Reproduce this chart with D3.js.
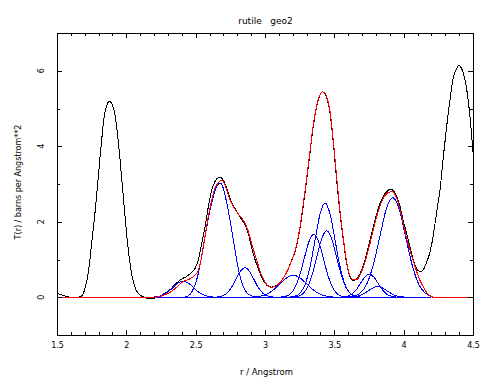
<!DOCTYPE html>
<html><head><meta charset="utf-8">
<script src="https://cdn.jsdelivr.net/npm/d3@7"></script>
<style>
body{margin:0;background:#fff}
svg{display:block}
text{font-family:"DejaVu Sans",sans-serif;fill:#000}
</style>
</head><body>
<svg id="c" width="501" height="391"></svg>
<script>
// ---------- data ----------
const title = "rutile   geo2";
const xTitle = "r / Angstrom";
const yTitle = "T(r) / barns per Angstrom**2";
const xMajor = [1.5, 2, 2.5, 3, 3.5, 4, 4.5];
const xMinor = [1.6,1.7,1.8,1.9,2.1,2.2,2.3,2.4,2.6,2.7,2.8,2.9,3.1,3.2,3.3,3.4,3.6,3.7,3.8,3.9,4.1,4.2,4.3,4.4];
const yMajor = [0, 2, 4, 6];
const yMinor = [1, 3, 5];

// measured T(r) (black)
const blackR = [1.5,1.53,1.56,1.6,1.65,1.675,1.69,1.704,1.716,1.728,1.74,1.752,1.764,1.776,1.788,1.80,1.81,1.82,1.837,1.856,1.868,1.88,1.892,1.904,1.92,1.938,1.957,1.976,1.993,2.012,2.034,2.058,2.075,2.089,2.11,2.13,2.17,2.2,2.22,2.243,2.27,2.315,2.363,2.402,2.435,2.471,2.495,2.519,2.543,2.567,2.591,2.615,2.639,2.656,2.671,2.685,2.7,2.724,2.753,2.784,2.82,2.856,2.88,2.904,2.928,2.952,2.976,3.0,3.024,3.048,3.066,3.084,3.102,3.12,3.138,3.156,3.174,3.192,3.21,3.228,3.252,3.276,3.30,3.324,3.348,3.373,3.397,3.413,3.429,3.445,3.469,3.493,3.517,3.541,3.565,3.589,3.613,3.637,3.66,3.685,3.709,3.733,3.757,3.781,3.805,3.829,3.853,3.877,3.895,3.909,3.93,3.95,3.974,4.0,4.022,4.04,4.058,4.076,4.094,4.11,4.123,4.14,4.166,4.19,4.208,4.226,4.244,4.262,4.286,4.31,4.334,4.358,4.38,4.399,4.415,4.43,4.455,4.478,4.5];
const blackT = [0.10,0.07,0.03,0.0,0.0,0.03,0.1,0.27,0.45,0.71,1.08,1.51,1.9,2.31,2.8,3.28,3.7,4.08,4.70,5.05,5.16,5.19,5.15,5.05,4.79,4.26,3.55,2.75,2.04,1.33,0.71,0.31,0.16,0.09,0.03,0.0,-0.04,-0.03,0.0,0.03,0.09,0.2,0.38,0.49,0.55,0.66,0.76,0.98,1.42,1.86,2.39,2.84,3.06,3.15,3.18,3.16,3.10,2.88,2.57,2.35,2.13,1.91,1.69,1.3,1.0,0.75,0.53,0.38,0.29,0.27,0.28,0.32,0.38,0.45,0.55,0.67,0.81,0.98,1.14,1.36,1.82,2.42,3.10,3.81,4.52,5.05,5.36,5.44,5.4,5.28,4.88,4.08,3.10,2.22,1.51,0.89,0.53,0.44,0.48,0.62,0.85,1.15,1.5,1.86,2.2,2.48,2.68,2.79,2.85,2.86,2.8,2.66,2.4,1.98,1.69,1.42,1.15,0.92,0.76,0.69,0.67,0.72,0.93,1.2,1.52,1.95,2.4,2.84,3.72,4.52,5.23,5.81,6.05,6.14,6.08,5.94,5.5,4.79,3.85];

// total fit (red)
const fitR = [1.5,2.2,2.243,2.28,2.315,2.363,2.411,2.459,2.495,2.519,2.543,2.567,2.591,2.615,2.639,2.663,2.687,2.712,2.736,2.76,2.796,2.844,2.873,2.904,2.94,2.976,3.012,3.04,3.06,3.084,3.102,3.12,3.138,3.156,3.174,3.192,3.21,3.228,3.252,3.276,3.30,3.324,3.348,3.373,3.397,3.413,3.429,3.445,3.469,3.493,3.517,3.541,3.565,3.589,3.613,3.637,3.66,3.685,3.709,3.733,3.757,3.781,3.805,3.829,3.853,3.877,3.9,3.915,3.93,3.95,3.974,4.0,4.022,4.046,4.07,4.094,4.118,4.142,4.16,4.178,4.2,4.215,4.5];
const fitT = [0,0,0.02,0.07,0.13,0.27,0.42,0.49,0.58,0.71,1.06,1.6,2.13,2.57,2.88,3.04,3.10,2.97,2.7,2.48,2.26,2.04,1.82,1.42,0.98,0.58,0.34,0.27,0.27,0.31,0.37,0.44,0.54,0.66,0.8,0.97,1.15,1.39,1.86,2.47,3.15,3.86,4.56,5.08,5.37,5.44,5.42,5.31,4.92,4.14,3.17,2.28,1.56,0.93,0.56,0.46,0.47,0.58,0.8,1.08,1.42,1.78,2.13,2.42,2.62,2.74,2.79,2.8,2.76,2.62,2.31,1.9,1.55,1.24,0.95,0.68,0.44,0.28,0.16,0.08,0.02,0,0];

// fitted component peaks (blue), [r, T(r)]
const peakA = [[2.2,0.008],[2.235,0.025],[2.26,0.057],[2.285,0.105],[2.31,0.17],[2.335,0.255],[2.36,0.34],[2.385,0.40],[2.41,0.42],[2.435,0.40],[2.46,0.34],[2.485,0.255],[2.51,0.17],[2.535,0.105],[2.56,0.057],[2.585,0.028],[2.61,0.012],[2.64,0.003],[2.7,0],[4.2,0]];
const peakB = [[2.2,0],[2.42,0],[2.46,0.08],[2.483,0.22],[2.51,0.5],[2.535,0.92],[2.555,1.35],[2.58,1.86],[2.603,2.3],[2.627,2.66],[2.652,2.93],[2.676,3.03],[2.70,2.88],[2.724,2.5],[2.748,2.04],[2.772,1.51],[2.796,0.98],[2.82,0.55],[2.844,0.28],[2.868,0.12],[2.9,0.04],[2.94,0.005],[2.98,0],[4.2,0]];
const peakC = [[2.2,0],[2.6,0],[2.63,0.002],[2.66,0.009],[2.69,0.034],[2.725,0.106],[2.757,0.253],[2.79,0.473],[2.822,0.688],[2.855,0.78],[2.888,0.688],[2.92,0.473],[2.952,0.253],[2.985,0.106],[3.018,0.034],[3.05,0.009],[3.08,0.002],[3.12,0],[4.2,0]];
const peakD = [[2.2,0],[2.83,0],[2.864,0.001],[2.913,0.006],[2.961,0.025],[3.01,0.078],[3.058,0.188],[3.107,0.352],[3.155,0.512],[3.204,0.58],[3.253,0.512],[3.301,0.352],[3.35,0.188],[3.398,0.078],[3.447,0.025],[3.495,0.006],[3.544,0.001],[3.58,0],[4.2,0]];
const peakE = [[2.2,0],[3.07,0],[3.107,0.004],[3.142,0.018],[3.177,0.073],[3.212,0.226],[3.247,0.542],[3.282,1.013],[3.317,1.474],[3.352,1.67],[3.387,1.474],[3.422,1.013],[3.457,0.542],[3.492,0.226],[3.527,0.073],[3.562,0.018],[3.597,0.004],[3.63,0],[4.2,0]];
const peakF = [[2.2,0],[3.15,0],[3.181,0.005],[3.217,0.028],[3.253,0.11],[3.289,0.338],[3.325,0.812],[3.361,1.516],[3.397,2.206],[3.433,2.5],[3.469,2.206],[3.505,1.516],[3.541,0.812],[3.577,0.338],[3.613,0.11],[3.649,0.028],[3.685,0.005],[3.72,0],[4.2,0]];
const peakG = [[2.2,0],[3.16,0],[3.196,0.004],[3.232,0.02],[3.267,0.077],[3.303,0.238],[3.338,0.571],[3.374,1.067],[3.409,1.553],[3.445,1.76],[3.481,1.553],[3.516,1.067],[3.552,0.571],[3.587,0.238],[3.623,0.077],[3.658,0.02],[3.694,0.004],[3.73,0],[4.2,0]];
const peakH = [[2.2,0],[3.5,0],[3.532,0.001],[3.563,0.007],[3.595,0.027],[3.626,0.083],[3.658,0.198],[3.689,0.37],[3.721,0.538],[3.752,0.61],[3.784,0.538],[3.815,0.37],[3.847,0.198],[3.878,0.083],[3.91,0.027],[3.941,0.007],[3.973,0.001],[4.0,0],[4.2,0]];
const peakI = [[2.2,0],[3.54,0],[3.574,0.001],[3.608,0.003],[3.642,0.012],[3.676,0.038],[3.71,0.091],[3.744,0.17],[3.778,0.247],[3.812,0.28],[3.846,0.247],[3.88,0.17],[3.914,0.091],[3.948,0.038],[3.982,0.012],[4.016,0.003],[4.05,0.001],[4.08,0],[4.2,0]];
const peakJ = [[2.2,0],[3.56,0],[3.595,0.006],[3.642,0.029],[3.688,0.116],[3.735,0.357],[3.781,0.857],[3.828,1.601],[3.874,2.33],[3.921,2.64],[3.968,2.33],[4.014,1.601],[4.061,0.857],[4.107,0.357],[4.154,0.116],[4.2,0.029]];
const peaks = [peakA, peakB, peakC, peakD, peakE, peakF, peakG, peakH, peakI, peakJ];

// ---------- drawing ----------
const svg = d3.select("#c");
const L = 57, R = 473, T = 33, B = 335;
const x = d3.scaleLinear().domain([1.5, 4.5]).range([L, R]);
const y = d3.scaleLinear().domain([-1, 7]).range([B, T]);

svg.append("defs").append("clipPath").attr("id", "clip")
  .append("rect").attr("x", L).attr("y", T).attr("width", R - L).attr("height", B - T);

const plot = svg.append("g").attr("clip-path", "url(#clip)").attr("shape-rendering", "crispEdges");
const line = d3.line().x(d => x(d[0])).y(d => y(d[1])).curve(d3.curveMonotoneX);

plot.append("path").datum(blackR.map((r, i) => [r, blackT[i]]))
  .attr("d", line).attr("fill", "none").attr("stroke", "#000").attr("stroke-width", 1);

peaks.forEach(p => {
  plot.append("path").datum(p).attr("d", line)
    .attr("fill", "none").attr("stroke", "#0000ff").attr("stroke-width", 1);
});

plot.append("path").datum(fitR.map((r, i) => [r, fitT[i]]))
  .attr("d", line).attr("fill", "none").attr("stroke", "#ff0000").attr("stroke-width", 1);

// axes (inward ticks)
function styleAxis(g) {
  g.select(".domain").remove();
  g.selectAll("line").attr("stroke", "#000").attr("shape-rendering", "crispEdges");
  g.selectAll("text").style("font-size", "8px").style("font-family", "DejaVu Sans, sans-serif");
}
const fmt = d3.format("");
svg.append("g").attr("transform", `translate(0,${B})`)
  .call(d3.axisBottom(x).tickValues(xMajor).tickFormat(fmt).tickSize(-5).tickPadding(7))
  .call(styleAxis);
svg.append("g").attr("transform", `translate(0,${B})`)
  .call(d3.axisBottom(x).tickValues(xMinor).tickFormat("").tickSize(-3))
  .call(styleAxis);
svg.append("g").attr("transform", `translate(0,${T})`)
  .call(d3.axisTop(x).tickValues(xMajor).tickFormat("").tickSize(-5))
  .call(styleAxis);
svg.append("g").attr("transform", `translate(0,${T})`)
  .call(d3.axisTop(x).tickValues(xMinor).tickFormat("").tickSize(-3))
  .call(styleAxis);
svg.append("g").attr("transform", `translate(${L},0)`)
  .call(d3.axisLeft(y).tickValues(yMajor).tickFormat("").tickSize(-5))
  .call(styleAxis);
svg.append("g").attr("transform", `translate(${L},0)`)
  .call(d3.axisLeft(y).tickValues(yMinor).tickFormat("").tickSize(-3))
  .call(styleAxis);
svg.append("g").attr("transform", `translate(${R},0)`)
  .call(d3.axisRight(y).tickValues(yMajor).tickFormat("").tickSize(-5))
  .call(styleAxis);
svg.append("g").attr("transform", `translate(${R},0)`)
  .call(d3.axisRight(y).tickValues(yMinor).tickFormat("").tickSize(-3))
  .call(styleAxis);

// rotated y tick labels
svg.append("g").selectAll("text").data(yMajor).join("text")
  .attr("transform", d => `translate(43.5,${y(d)}) rotate(-90)`)
  .attr("text-anchor", "middle").style("font-size", "8px")
  .text(d => fmt(d));

// frame
svg.append("rect").attr("x", L).attr("y", T).attr("width", R - L).attr("height", B - T)
  .attr("fill", "none").attr("stroke", "#000").attr("stroke-width", 1).attr("shape-rendering", "crispEdges");

// titles
svg.append("text").attr("x", 265.5).attr("y", 23.5).attr("text-anchor", "middle")
  .style("font-size", "9px").style("white-space", "pre").attr("xml:space", "preserve").text(title);
svg.append("text").attr("x", 266.5).attr("y", 375).attr("text-anchor", "middle")
  .style("font-size", "8.5px").text(xTitle);
svg.append("text").attr("transform", "translate(21,182) rotate(-90)").attr("text-anchor", "middle")
  .style("font-size", "8px").text(yTitle);
</script>
</body></html>
